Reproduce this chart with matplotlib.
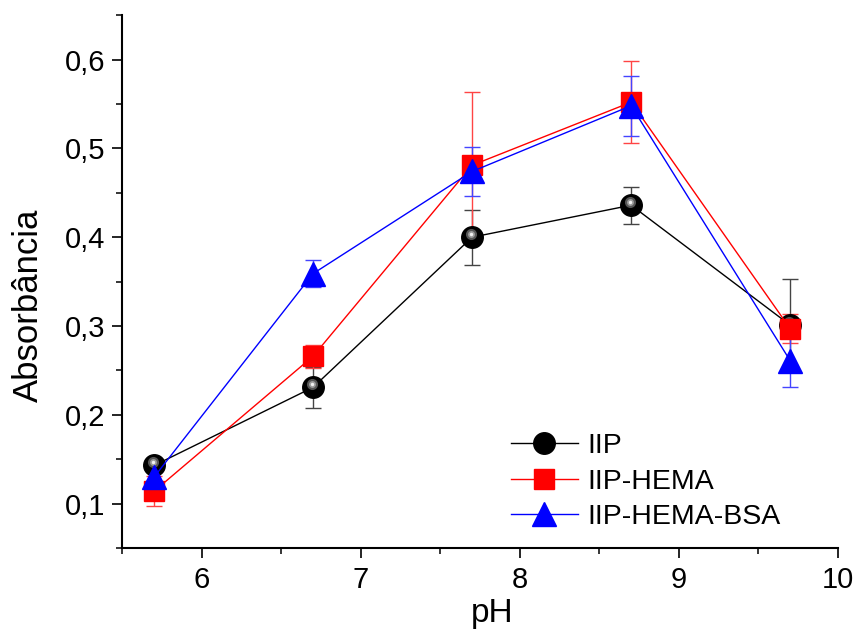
import matplotlib.pyplot as plt
from matplotlib.ticker import MultipleLocator, FuncFormatter
from matplotlib.transforms import offset_copy

plt.rcParams['font.family'] = ['Liberation Sans', 'DejaVu Sans']

ph = [5.7, 6.7, 7.7, 8.7, 9.7]

iip = [0.143, 0.231, 0.400, 0.436, 0.301]
iip_err = [0.005, 0.023, 0.031, 0.021, 0.052]

iip_hema = [0.114, 0.266, 0.481, 0.552, 0.297]
iip_hema_err = [0.017, 0.013, 0.082, 0.046, 0.016]

iip_hema_bsa = [0.130, 0.359, 0.474, 0.548, 0.261]
iip_hema_bsa_err = [0.012, 0.015, 0.028, 0.034, 0.030]

fig = plt.figure(figsize=(8.55, 6.3), dpi=100)
ax = fig.add_axes([0.143, 0.130, 0.837, 0.846])

# error bars first so markers sit on top
ax.errorbar(ph, iip, yerr=iip_err, fmt='none', ecolor='#444444',
            elinewidth=1, capsize=6, capthick=1, zorder=2)
ax.errorbar(ph, iip_hema, yerr=iip_hema_err, fmt='none', ecolor='#ff4444',
            elinewidth=1, capsize=6, capthick=1, zorder=2)
ax.errorbar(ph, iip_hema_bsa, yerr=iip_hema_bsa_err, fmt='none', ecolor='#4444ff',
            elinewidth=1, capsize=6, capthick=1, zorder=2)

l1, = ax.plot(ph, iip, '-', color='black', lw=1, marker='o', ms=15.5,
              mfc='black', mec='black', zorder=3, label='IIP')
# shiny highlight on the black spheres
hl = offset_copy(ax.transData, fig=fig, x=-1, y=2.5, units='points')
ax.plot(ph, iip, 'o', ls='none', ms=8, mfc='#555555', mec='none', transform=hl, zorder=3.1)
ax.plot(ph, iip, 'o', ls='none', ms=5, mfc='#9a9a9a', mec='none', transform=hl, zorder=3.2)
ax.plot(ph, iip, 'o', ls='none', ms=2.5, mfc='#f0f0f0', mec='none', transform=hl, zorder=3.3)

l2, = ax.plot(ph, iip_hema, '-', color='red', lw=1, marker='s', ms=14,
              mfc='red', mec='red', zorder=4, label='IIP-HEMA')
l3, = ax.plot(ph, iip_hema_bsa, '-', color='blue', lw=1, marker='^', ms=17.5,
              mfc='blue', mec='blue', zorder=5, label='IIP-HEMA-BSA')

ax.set_xlim(5.5, 10)
ax.set_ylim(0.05, 0.65)
ax.xaxis.set_major_locator(MultipleLocator(1))
ax.xaxis.set_minor_locator(MultipleLocator(0.5))
ax.yaxis.set_major_locator(MultipleLocator(0.1))
ax.yaxis.set_minor_locator(MultipleLocator(0.05))
ax.yaxis.set_major_formatter(FuncFormatter(lambda v, p: f'{v:.1f}'.replace('.', ',')))

for side in ('top', 'right'):
    ax.spines[side].set_visible(False)
for side in ('left', 'bottom'):
    ax.spines[side].set_linewidth(1.5)

ax.tick_params(which='major', direction='out', length=7, width=1.2, labelsize=21)
ax.tick_params(which='minor', direction='out', length=4, width=1.1)
ax.tick_params(axis='x', which='major', pad=6)
ax.tick_params(axis='y', which='major', pad=5)

ax.set_xlabel('pH', fontsize=24)
ax.xaxis.label.set_va('baseline')
ax.xaxis.set_label_coords(0.517, -0.139)
ax.set_ylabel('Absorbância', fontsize=25)
ax.yaxis.set_label_coords(-0.108, 0.456)

ax.legend(handles=[l1, l2, l3], loc='upper left', frameon=False, fontsize=20.5,
          bbox_to_anchor=(0.543, 0.216), borderpad=0, borderaxespad=0,
          handlelength=2.35, handletextpad=0.35, labelspacing=0.34)

fig.savefig('out.png', dpi=100)
